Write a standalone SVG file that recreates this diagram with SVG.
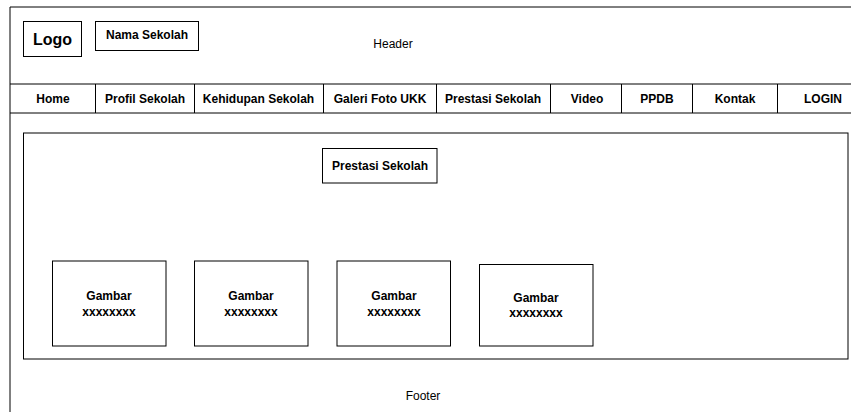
<svg xmlns="http://www.w3.org/2000/svg" width="851" height="412" viewBox="0 0 851 412">
<style>
.box{fill:#fff;stroke:#000;stroke-width:1}
.line{fill:none;stroke:#000;stroke-width:1}
text{font-family:"Liberation Sans",Arial,sans-serif;fill:#000;text-anchor:middle}
.b{font-weight:bold;font-size:12px}
.r{font-size:12px}
</style>
<rect width="851" height="412" fill="#fff"/>
<g id="frame">
<path class="line" d="M10,420 V7 H860"/>
<path class="line" d="M10,84 H860 M10,113 H860"/>
</g>
<g id="header">
<text class="r" x="393" y="47.5">Header</text>
</g>
<g id="logo">
<rect class="box" x="23.5" y="21.5" width="58" height="35"/>
<text x="52.5" y="45" style="font-weight:bold;font-size:16px">Logo</text>
</g>
<g id="nama-sekolah">
<rect class="box" x="95.5" y="21.5" width="103" height="29"/>
<text class="b" x="147" y="38.5">Nama Sekolah</text>
</g>
<g id="nav">
<path class="line" d="M95.5,84 V113 M194.5,84 V113 M323.5,84 V113 M436.5,84 V113 M550.5,84 V113 M621.5,84 V113 M692.5,84 V113 M777.5,84 V113"/>
<text class="b" x="53" y="103">Home</text>
<text class="b" x="145" y="103">Profil Sekolah</text>
<text class="b" x="258.5" y="103">Kehidupan Sekolah</text>
<text class="b" x="380" y="103">Galeri Foto UKK</text>
<text class="b" x="493" y="103">Prestasi Sekolah</text>
<text class="b" x="587" y="103">Video</text>
<text class="b" x="657" y="103">PPDB</text>
<text class="b" x="735" y="103">Kontak</text>
<text class="b" x="823" y="103">LOGIN</text>
</g>
<g id="content">
<rect class="box" x="23.5" y="133" width="824.5" height="226"/>
</g>
<g id="prestasi-sekolah">
<rect class="box" x="322.5" y="148.5" width="114.5" height="34.5"/>
<text class="b" x="380" y="170">Prestasi Sekolah</text>
</g>
<g id="gambar-1">
<rect class="box" x="52.5" y="261" width="113.5" height="85"/>
<text class="b" x="109" y="300">Gambar</text>
<text class="b" x="109" y="316">xxxxxxxx</text>
</g>
<g id="gambar-2">
<rect class="box" x="194.5" y="261" width="113.5" height="85"/>
<text class="b" x="251" y="300">Gambar</text>
<text class="b" x="251" y="316">xxxxxxxx</text>
</g>
<g id="gambar-3">
<rect class="box" x="337" y="261" width="113.5" height="85"/>
<text class="b" x="394" y="300">Gambar</text>
<text class="b" x="394" y="316">xxxxxxxx</text>
</g>
<g id="gambar-4">
<rect class="box" x="479.5" y="264.5" width="113.5" height="81.5"/>
<text class="b" x="536" y="301.5">Gambar</text>
<text class="b" x="536" y="316.5">xxxxxxxx</text>
</g>
<g id="footer">
<text class="r" x="423" y="400">Footer</text>
</g>
</svg>
